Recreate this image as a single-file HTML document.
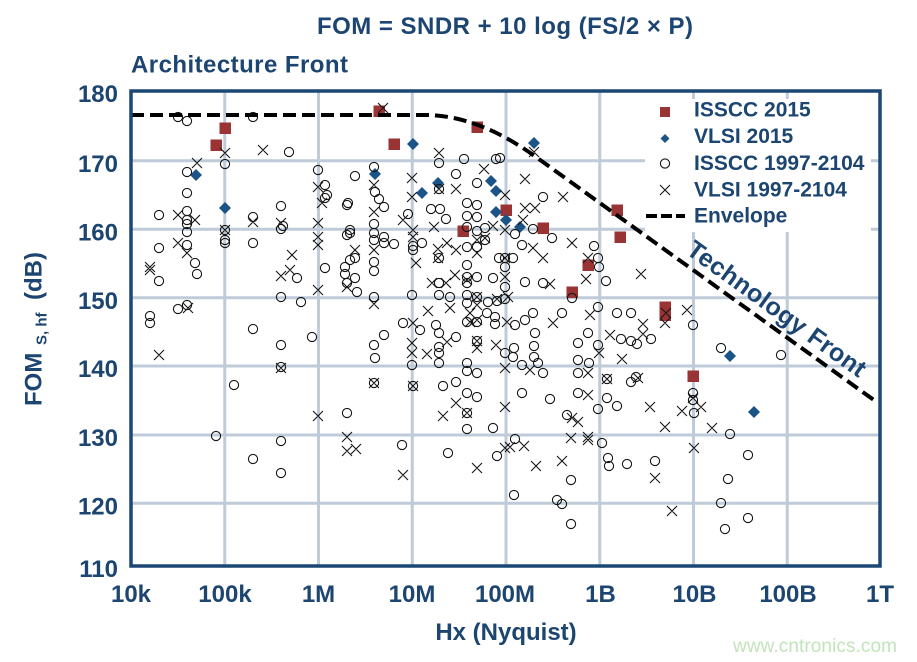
<!DOCTYPE html>
<html><head><meta charset="utf-8"><style>
html,body{margin:0;padding:0;background:#fff;}
svg{display:block;}
text{font-family:"Liberation Sans",Arial,sans-serif;font-weight:bold;fill:#1c4571;}
</style></head><body>
<svg width="917" height="662" viewBox="0 0 917 662" xmlns="http://www.w3.org/2000/svg">
<rect width="917" height="662" fill="#fff"/>
<text x="505" y="34" font-size="24" text-anchor="middle" textLength="376" lengthAdjust="spacing">FOM = SNDR + 10 log (FS/2 × P)</text>
<text x="131" y="72.5" font-size="24" textLength="217" lengthAdjust="spacing">Architecture Front</text>
<g stroke="#bfcbd8" stroke-width="3" fill="none">
<path d="M224.75 91V566M318.5 91V566M412.25 91V566M506 91V566M599.75 91V566M693.5 91V566M787.25 91V566"/>
<path d="M131 160.7H880M131 229.3H880M131 297.7H880M131 366H880M131 435H880M131 503.3H880"/>
</g>
<rect x="645" y="99" width="226" height="133" fill="#fff"/>
<g font-size="24" text-anchor="end">
<text x="118" y="102">180</text><text x="118" y="172">170</text><text x="118" y="240.5">160</text><text x="118" y="309">150</text><text x="118" y="377">140</text><text x="118" y="446">130</text><text x="118" y="514.5">120</text><text x="118" y="577">110</text>
</g>
<g font-size="24" text-anchor="middle">
<text x="131" y="602">10k</text><text x="225" y="602">100k</text><text x="318.5" y="602">1M</text><text x="412" y="602">10M</text><text x="505" y="602">100M</text><text x="600.5" y="602">1B</text><text x="694.5" y="602">10B</text><text x="788" y="602">100B</text><text x="880" y="602">1T</text>
</g>
<text x="506" y="640" font-size="24" text-anchor="middle">Hx (Nyquist)</text>
<g transform="translate(41.5,406) rotate(-90)">
<text x="0" y="0" font-size="24">FOM</text>
<text x="61" y="5" font-size="15">S, hf</text>
<text x="106" y="0" font-size="24">(dB)</text>
</g>
<g fill="#9a3334">
<rect x="210.5" y="139.5" width="11.5" height="11.5"/><rect x="219.5" y="122.5" width="11.5" height="11.5"/><rect x="373.5" y="105.5" width="11.5" height="11.5"/><rect x="388.5" y="138.5" width="11.5" height="11.5"/><rect x="471.5" y="121.5" width="11.5" height="11.5"/><rect x="457.5" y="225.5" width="11.5" height="11.5"/><rect x="500.5" y="204.5" width="11.5" height="11.5"/><rect x="537.5" y="222.5" width="11.5" height="11.5"/><rect x="611.5" y="204.5" width="11.5" height="11.5"/><rect x="614.5" y="231.5" width="11.5" height="11.5"/><rect x="582.5" y="259.5" width="11.5" height="11.5"/><rect x="566.5" y="286.5" width="11.5" height="11.5"/><rect x="659.5" y="301.5" width="11.5" height="11.5"/><rect x="659.5" y="309.5" width="11.5" height="11.5"/><rect x="687.5" y="370.5" width="11.5" height="11.5"/>
</g>
<g fill="#1b5487">
<path d="M196 169l6 6-6 6-6-6z"/><path d="M225 202l6 6-6 6-6-6z"/><path d="M375 168l6 6-6 6-6-6z"/><path d="M413 138l6 6-6 6-6-6z"/><path d="M422 187l6 6-6 6-6-6z"/><path d="M438 177l6 6-6 6-6-6z"/><path d="M491 175l6 6-6 6-6-6z"/><path d="M496 185l6 6-6 6-6-6z"/><path d="M496 206l6 6-6 6-6-6z"/><path d="M506 214l6 6-6 6-6-6z"/><path d="M520 221l6 6-6 6-6-6z"/><path d="M534 137l6 6-6 6-6-6z"/><path d="M730 350l6 6-6 6-6-6z"/><path d="M754 406l6 6-6 6-6-6z"/>
</g>
<g fill="none" stroke="#151515" stroke-width="1.1">
<circle cx="178" cy="117" r="4.6"/><circle cx="187" cy="121" r="4.6"/><circle cx="253" cy="117" r="4.6"/><circle cx="225" cy="164" r="4.6"/><circle cx="289" cy="152" r="4.6"/><circle cx="187" cy="172" r="4.6"/><circle cx="187" cy="193" r="4.6"/><circle cx="159" cy="215" r="4.6"/><circle cx="187" cy="211" r="4.6"/><circle cx="187" cy="220" r="4.6"/><circle cx="187" cy="224" r="4.6"/><circle cx="187" cy="232" r="4.6"/><circle cx="187" cy="245" r="4.6"/><circle cx="195" cy="263" r="4.6"/><circle cx="197" cy="274" r="4.6"/><circle cx="159" cy="248" r="4.6"/><circle cx="159" cy="281" r="4.6"/><circle cx="225" cy="230" r="4.6"/><circle cx="225" cy="240" r="4.6"/><circle cx="225" cy="243" r="4.6"/><circle cx="253" cy="217" r="4.6"/><circle cx="253" cy="243" r="4.6"/><circle cx="281" cy="206" r="4.6"/><circle cx="281" cy="229" r="4.6"/><circle cx="283" cy="226" r="4.6"/><circle cx="297" cy="278" r="4.6"/><circle cx="281" cy="297" r="4.6"/><circle cx="301" cy="302" r="4.6"/><circle cx="178" cy="309" r="4.6"/><circle cx="187" cy="305" r="4.6"/><circle cx="150" cy="316" r="4.6"/><circle cx="150" cy="323" r="4.6"/><circle cx="253" cy="329" r="4.6"/><circle cx="318" cy="170" r="4.6"/><circle cx="325" cy="185" r="4.6"/><circle cx="327" cy="195" r="4.6"/><circle cx="325" cy="198" r="4.6"/><circle cx="325" cy="268" r="4.6"/><circle cx="347" cy="205" r="4.6"/><circle cx="348" cy="203" r="4.6"/><circle cx="355" cy="176" r="4.6"/><circle cx="347" cy="235" r="4.6"/><circle cx="350" cy="230" r="4.6"/><circle cx="350" cy="233" r="4.6"/><circle cx="345" cy="267" r="4.6"/><circle cx="345" cy="274" r="4.6"/><circle cx="347" cy="283" r="4.6"/><circle cx="357" cy="292" r="4.6"/><circle cx="355" cy="278" r="4.6"/><circle cx="350" cy="260" r="4.6"/><circle cx="355" cy="258" r="4.6"/>
<circle cx="281" cy="345" r="4.6"/><circle cx="312" cy="337" r="4.6"/><circle cx="281" cy="367" r="4.6"/><circle cx="234" cy="385" r="4.6"/><circle cx="216" cy="436" r="4.6"/><circle cx="281" cy="441" r="4.6"/><circle cx="253" cy="459" r="4.6"/><circle cx="281" cy="473" r="4.6"/><circle cx="347" cy="413" r="4.6"/>
<circle cx="374" cy="167" r="4.6"/><circle cx="439" cy="163" r="4.6"/><circle cx="464" cy="159" r="4.6"/><circle cx="496" cy="159" r="4.6"/><circle cx="456" cy="174" r="4.6"/><circle cx="477" cy="183" r="4.6"/><circle cx="439" cy="189" r="4.6"/><circle cx="375" cy="192" r="4.6"/><circle cx="379" cy="199" r="4.6"/><circle cx="384" cy="207" r="4.6"/><circle cx="431" cy="209" r="4.6"/><circle cx="440" cy="209" r="4.6"/><circle cx="446" cy="219" r="4.6"/><circle cx="467" cy="203" r="4.6"/><circle cx="477" cy="205" r="4.6"/><circle cx="467" cy="216" r="4.6"/><circle cx="477" cy="217" r="4.6"/><circle cx="408" cy="214" r="4.6"/><circle cx="374" cy="224" r="4.6"/><circle cx="374" cy="233" r="4.6"/><circle cx="374" cy="240" r="4.6"/><circle cx="384" cy="237" r="4.6"/><circle cx="384" cy="243" r="4.6"/><circle cx="394" cy="244" r="4.6"/><circle cx="413" cy="246" r="4.6"/><circle cx="413" cy="250" r="4.6"/><circle cx="422" cy="243" r="4.6"/><circle cx="467" cy="227" r="4.6"/><circle cx="477" cy="231" r="4.6"/><circle cx="485" cy="228" r="4.6"/><circle cx="467" cy="247" r="4.6"/><circle cx="477" cy="247" r="4.6"/><circle cx="485" cy="240" r="4.6"/><circle cx="374" cy="262" r="4.6"/><circle cx="374" cy="271" r="4.6"/><circle cx="439" cy="258" r="4.6"/><circle cx="467" cy="265" r="4.6"/><circle cx="467" cy="277" r="4.6"/><circle cx="467" cy="283" r="4.6"/><circle cx="477" cy="277" r="4.6"/><circle cx="439" cy="283" r="4.6"/><circle cx="439" cy="295" r="4.6"/><circle cx="450" cy="297" r="4.6"/><circle cx="499" cy="258" r="4.6"/><circle cx="493" cy="278" r="4.6"/><circle cx="374" cy="297" r="4.6"/><circle cx="412" cy="295" r="4.6"/><circle cx="467" cy="295" r="4.6"/><circle cx="477" cy="297" r="4.6"/><circle cx="488" cy="302" r="4.6"/><circle cx="497" cy="301" r="4.6"/><circle cx="467" cy="303" r="4.6"/><circle cx="403" cy="323" r="4.6"/><circle cx="436" cy="325" r="4.6"/><circle cx="467" cy="322" r="4.6"/><circle cx="477" cy="322" r="4.6"/><circle cx="495" cy="317" r="4.6"/><circle cx="495" cy="324" r="4.6"/><circle cx="487" cy="313" r="4.6"/>
<circle cx="384" cy="335" r="4.6"/><circle cx="374" cy="345" r="4.6"/><circle cx="375" cy="358" r="4.6"/><circle cx="374" cy="383" r="4.6"/><circle cx="412" cy="365" r="4.6"/><circle cx="413" cy="386" r="4.6"/><circle cx="420" cy="330" r="4.6"/><circle cx="439" cy="333" r="4.6"/><circle cx="439" cy="347" r="4.6"/><circle cx="439" cy="353" r="4.6"/><circle cx="439" cy="363" r="4.6"/><circle cx="456" cy="337" r="4.6"/><circle cx="443" cy="386" r="4.6"/><circle cx="456" cy="382" r="4.6"/><circle cx="467" cy="363" r="4.6"/><circle cx="467" cy="371" r="4.6"/><circle cx="477" cy="373" r="4.6"/><circle cx="467" cy="393" r="4.6"/><circle cx="477" cy="397" r="4.6"/><circle cx="467" cy="413" r="4.6"/><circle cx="467" cy="429" r="4.6"/><circle cx="493" cy="428" r="4.6"/><circle cx="477" cy="341" r="4.6"/><circle cx="402" cy="445" r="4.6"/><circle cx="448" cy="453" r="4.6"/><circle cx="497" cy="456" r="4.6"/>
<circle cx="543" cy="197" r="4.6"/><circle cx="533" cy="229" r="4.6"/><circle cx="515" cy="234" r="4.6"/><circle cx="552" cy="238" r="4.6"/><circle cx="522" cy="245" r="4.6"/><circle cx="594" cy="246" r="4.6"/><circle cx="505" cy="258" r="4.6"/><circle cx="513" cy="258" r="4.6"/><circle cx="598" cy="258" r="4.6"/><circle cx="599" cy="267" r="4.6"/><circle cx="505" cy="267" r="4.6"/><circle cx="525" cy="282" r="4.6"/><circle cx="543" cy="283" r="4.6"/><circle cx="606" cy="281" r="4.6"/><circle cx="505" cy="287" r="4.6"/><circle cx="505" cy="299" r="4.6"/><circle cx="572" cy="298" r="4.6"/><circle cx="533" cy="313" r="4.6"/><circle cx="562" cy="313" r="4.6"/><circle cx="598" cy="307" r="4.6"/><circle cx="617" cy="313" r="4.6"/><circle cx="631" cy="313" r="4.6"/><circle cx="525" cy="320" r="4.6"/><circle cx="515" cy="325" r="4.6"/><circle cx="500" cy="158" r="4.6"/>
<circle cx="535" cy="333" r="4.6"/><circle cx="514" cy="348" r="4.6"/><circle cx="505" cy="353" r="4.6"/><circle cx="513" cy="357" r="4.6"/><circle cx="534" cy="346" r="4.6"/><circle cx="534" cy="357" r="4.6"/><circle cx="538" cy="363" r="4.6"/><circle cx="522" cy="365" r="4.6"/><circle cx="543" cy="373" r="4.6"/><circle cx="578" cy="343" r="4.6"/><circle cx="588" cy="333" r="4.6"/><circle cx="598" cy="345" r="4.6"/><circle cx="578" cy="360" r="4.6"/><circle cx="589" cy="363" r="4.6"/><circle cx="578" cy="373" r="4.6"/><circle cx="621" cy="339" r="4.6"/><circle cx="631" cy="341" r="4.6"/><circle cx="637" cy="344" r="4.6"/><circle cx="651" cy="339" r="4.6"/><circle cx="522" cy="393" r="4.6"/><circle cx="550" cy="399" r="4.6"/><circle cx="578" cy="393" r="4.6"/><circle cx="607" cy="379" r="4.6"/><circle cx="607" cy="398" r="4.6"/><circle cx="617" cy="406" r="4.6"/><circle cx="598" cy="409" r="4.6"/><circle cx="631" cy="382" r="4.6"/><circle cx="636" cy="377" r="4.6"/><circle cx="567" cy="415" r="4.6"/><circle cx="515" cy="439" r="4.6"/><circle cx="602" cy="443" r="4.6"/><circle cx="608" cy="458" r="4.6"/><circle cx="609" cy="466" r="4.6"/><circle cx="627" cy="464" r="4.6"/><circle cx="655" cy="461" r="4.6"/><circle cx="571" cy="480" r="4.6"/><circle cx="514" cy="495" r="4.6"/><circle cx="557" cy="500" r="4.6"/><circle cx="562" cy="504" r="4.6"/><circle cx="571" cy="524" r="4.6"/>
<circle cx="693" cy="325" r="4.6"/><circle cx="693" cy="393" r="4.6"/><circle cx="693" cy="400" r="4.6"/><circle cx="694" cy="413" r="4.6"/><circle cx="721" cy="348" r="4.6"/><circle cx="781" cy="355" r="4.6"/><circle cx="730" cy="434" r="4.6"/><circle cx="748" cy="455" r="4.6"/><circle cx="728" cy="479" r="4.6"/><circle cx="721" cy="503" r="4.6"/><circle cx="748" cy="518" r="4.6"/><circle cx="725" cy="529" r="4.6"/>
</g>
<path fill="none" stroke="#151515" stroke-width="1.1" d="M192 158l10 10m0-10l-10 10M220 148l10 10m0-10l-10 10M258 145l10 10m0-10l-10 10M173 210l10 10m0-10l-10 10M190 215l10 10m0-10l-10 10M173 238l10 10m0-10l-10 10M182 248l10 10m0-10l-10 10M145 262l10 10m0-10l-10 10M145 265l10 10m0-10l-10 10M220 225l10 10m0-10l-10 10M248 217l10 10m0-10l-10 10M276 218l10 10m0-10l-10 10M287 250l10 10m0-10l-10 10M276 271l10 10m0-10l-10 10M285 265l10 10m0-10l-10 10M183 303l10 10m0-10l-10 10M313 182l10 10m0-10l-10 10M317 198l10 10m0-10l-10 10M313 218l10 10m0-10l-10 10M313 232l10 10m0-10l-10 10M313 240l10 10m0-10l-10 10M313 285l10 10m0-10l-10 10M342 282l10 10m0-10l-10 10M350 245l10 10m0-10l-10 10M154 350l10 10m0-10l-10 10M276 363l10 10m0-10l-10 10M313 411l10 10m0-10l-10 10M342 432l10 10m0-10l-10 10M342 446l10 10m0-10l-10 10M351 444l10 10m0-10l-10 10M378 103l10 10m0-10l-10 10
M434 148l10 10m0-10l-10 10M479 164l10 10m0-10l-10 10M369 180l10 10m0-10l-10 10M407 173l10 10m0-10l-10 10M407 192l10 10m0-10l-10 10M434 184l10 10m0-10l-10 10M451 184l10 10m0-10l-10 10M369 207l10 10m0-10l-10 10M398 215l10 10m0-10l-10 10M429 222l10 10m0-10l-10 10M408 225l10 10m0-10l-10 10M408 232l10 10m0-10l-10 10M442 238l10 10m0-10l-10 10M433 244l10 10m0-10l-10 10M433 253l10 10m0-10l-10 10M369 245l10 10m0-10l-10 10M411 258l10 10m0-10l-10 10M451 245l10 10m0-10l-10 10M472 235l10 10m0-10l-10 10M480 233l10 10m0-10l-10 10M488 221l10 10m0-10l-10 10M472 248l10 10m0-10l-10 10M462 275l10 10m0-10l-10 10M427 278l10 10m0-10l-10 10M450 270l10 10m0-10l-10 10M441 278l10 10m0-10l-10 10M369 299l10 10m0-10l-10 10M423 306l10 10m0-10l-10 10M445 303l10 10m0-10l-10 10M465 308l10 10m0-10l-10 10M472 292l10 10m0-10l-10 10M472 300l10 10m0-10l-10 10M492 294l10 10m0-10l-10 10M465 317l10 10m0-10l-10 10M472 315l10 10m0-10l-10 10M408 318l10 10m0-10l-10 10
M407 338l10 10m0-10l-10 10M407 348l10 10m0-10l-10 10M422 349l10 10m0-10l-10 10M442 337l10 10m0-10l-10 10M472 343l10 10m0-10l-10 10M491 340l10 10m0-10l-10 10M451 398l10 10m0-10l-10 10M438 411l10 10m0-10l-10 10M398 470l10 10m0-10l-10 10M472 463l10 10m0-10l-10 10M369 378l10 10m0-10l-10 10M408 381l10 10m0-10l-10 10M472 336l10 10m0-10l-10 10M462 408l10 10m0-10l-10 10
M529 147l10 10m0-10l-10 10M520 174l10 10m0-10l-10 10M558 192l10 10m0-10l-10 10M500 190l10 10m0-10l-10 10M520 203l10 10m0-10l-10 10M530 203l10 10m0-10l-10 10M518 215l10 10m0-10l-10 10M500 225l10 10m0-10l-10 10M528 243l10 10m0-10l-10 10M538 253l10 10m0-10l-10 10M567 238l10 10m0-10l-10 10M583 253l10 10m0-10l-10 10M581 274l10 10m0-10l-10 10M545 279l10 10m0-10l-10 10M636 269l10 10m0-10l-10 10M585 310l10 10m0-10l-10 10M548 318l10 10m0-10l-10 10M638 319l10 10m0-10l-10 10M502 317l10 10m0-10l-10 10M500 253l10 10m0-10l-10 10M500 272l10 10m0-10l-10 10M503 292l10 10m0-10l-10 10
M605 330l10 10m0-10l-10 10M638 329l10 10m0-10l-10 10M594 348l10 10m0-10l-10 10M617 354l10 10m0-10l-10 10M525 365l10 10m0-10l-10 10M500 363l10 10m0-10l-10 10M583 368l10 10m0-10l-10 10M602 374l10 10m0-10l-10 10M633 373l10 10m0-10l-10 10M583 390l10 10m0-10l-10 10M500 402l10 10m0-10l-10 10M645 402l10 10m0-10l-10 10M567 413l10 10m0-10l-10 10M573 417l10 10m0-10l-10 10M566 433l10 10m0-10l-10 10M583 432l10 10m0-10l-10 10M583 435l10 10m0-10l-10 10M500 443l10 10m0-10l-10 10M505 442l10 10m0-10l-10 10M519 441l10 10m0-10l-10 10M531 461l10 10m0-10l-10 10M557 456l10 10m0-10l-10 10M650 473l10 10m0-10l-10 10
M660 318l10 10m0-10l-10 10M661 308l10 10m0-10l-10 10M682 305l10 10m0-10l-10 10M660 422l10 10m0-10l-10 10M677 406l10 10m0-10l-10 10M696 402l10 10m0-10l-10 10M688 393l10 10m0-10l-10 10M707 423l10 10m0-10l-10 10M689 443l10 10m0-10l-10 10M667 506l10 10m0-10l-10 10"/>
<path d="M131 115L425 115Q478 115 536 157L878 403" fill="none" stroke="#000" stroke-width="4" stroke-dasharray="13 6"/>
<rect x="131" y="91" width="749" height="475" fill="none" stroke="#1b4775" stroke-width="3.5"/>
<rect x="660" y="107" width="10" height="10" fill="#9a3334"/>
<path d="M665 134l4.5 4.5-4.5 4.5-4.5-4.5z" fill="#1b5487"/>
<circle cx="665" cy="163.5" r="4.6" fill="none" stroke="#151515" stroke-width="1.1"/>
<path d="M660 185l10 10m0-10l-10 10" stroke="#151515" stroke-width="1.1" fill="none"/>
<path d="M646 216H685" stroke="#000" stroke-width="4" stroke-dasharray="11 4"/>
<g font-size="21">
<text x="694" y="116.5">ISSCC 2015</text>
<text x="694" y="143">VLSI 2015</text>
<text x="694" y="170">ISSCC 1997-2104</text>
<text x="694" y="196.5">VLSI 1997-2104</text>
<text x="694" y="222.5">Envelope</text>
</g>
<text transform="translate(685,253) rotate(35.8)" x="0" y="0" font-size="25" textLength="214" lengthAdjust="spacing">Technology Front</text>
<text x="733" y="652" font-size="19" style="font-weight:normal;fill:#c2e4bb" textLength="164" lengthAdjust="spacing">www.cntronics.com</text>
</svg>
</body></html>
